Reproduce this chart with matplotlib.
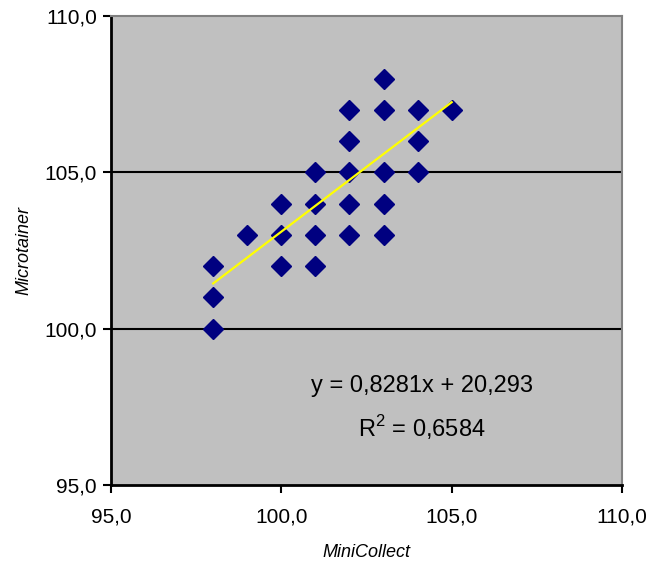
import matplotlib
matplotlib.use("Agg")
import matplotlib.pyplot as plt
from matplotlib.ticker import FuncFormatter
import numpy as np

plt.rcParams['font.family'] = ['Liberation Sans', 'DejaVu Sans']
plt.rcParams['mathtext.fontset'] = 'custom'
plt.rcParams['mathtext.rm'] = 'Liberation Sans'

# MiniCollect vs Microtainer readings
minicollect = [98, 98, 98, 99, 100, 100, 100, 101, 101, 101, 101,
               102, 102, 102, 102, 102, 103, 103, 103, 103, 103,
               104, 104, 104, 105]
microtainer = [100, 101, 102, 103, 102, 103, 104, 102, 103, 104, 105,
               103, 104, 105, 106, 107, 103, 104, 105, 107, 108,
               105, 106, 107, 107]

slope = 0.8281
intercept = 20.293
r2 = 0.6584

fig = plt.figure(figsize=(6.51, 5.66), dpi=100)
ax = fig.add_axes([0.1705, 0.1431, 0.7850, 0.8286])
ax.set_facecolor('#c0c0c0')

ax.axhline(100, color='black', lw=1.5, zorder=1)
ax.axhline(105, color='black', lw=1.5, zorder=1)

ax.plot(minicollect, microtainer, 'D', color='#000080', ms=10.5, mec='#000080',
        zorder=3, clip_on=False)

xs = np.array([min(minicollect), max(minicollect)])
ax.plot(xs, slope * xs + intercept, color='#ffff00', lw=1.6, zorder=4)

def fmt(v):
    return ("%.1f" % v).replace('.', ',')

ax.text(104.13, 98.17, "y = %sx + %s" % (str(slope).replace('.', ','), str(intercept).replace('.', ',')),
        ha='center', va='center', fontsize=17)
ax.text(104.13, 96.85, "R$^{2}$ = %s" % str(r2).replace('.', ','),
        ha='center', va='center', fontsize=17)

ax.set_xlim(95, 110)
ax.set_ylim(95, 110)
ax.set_xticks([95, 100, 105, 110])
ax.set_yticks([95, 100, 105, 110])
ax.xaxis.set_major_formatter(FuncFormatter(lambda v, p: fmt(v)))
ax.yaxis.set_major_formatter(FuncFormatter(lambda v, p: fmt(v)))
ax.tick_params(direction='out', length=6, width=1.5, labelsize=15)
ax.tick_params(axis='x', pad=10)
ax.tick_params(axis='y', pad=4)

for s in ['left', 'bottom']:
    ax.spines[s].set_linewidth(2)
    ax.spines[s].set_color('black')
for s in ['top', 'right']:
    ax.spines[s].set_linewidth(1.5)
    ax.spines[s].set_color('#808080')

ax.set_xlabel("MiniCollect", fontstyle='italic', fontsize=13, labelpad=13)
ax.set_ylabel("Microtainer", fontstyle='italic', fontsize=13, labelpad=9)

fig.savefig("out.png", dpi=100)
